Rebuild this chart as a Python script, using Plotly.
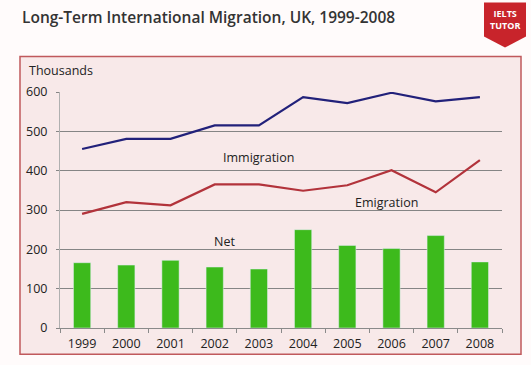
import plotly.graph_objects as go

years = ["1999", "2000", "2001", "2002", "2003", "2004", "2005", "2006", "2007", "2008"]
immigration = [455, 481, 481, 515, 515, 587, 572, 598, 576, 587]
emigration = [290, 320, 312, 365, 365, 349, 363, 401, 345, 427]
net = [166, 160, 172, 155, 150, 250, 210, 202, 235, 168]
y_ticks = [0, 100, 200, 300, 400, 500, 600]

W, H = 531, 365
L, R = 60, 502          # plot area pixel extents
T, B = 92.3, 327.7

def px(x):
    return (x - L) / (R - L)

def py(y):
    return (B - y) / (B - T)

fig = go.Figure()
fig.add_trace(go.Bar(x=years, y=net, marker_color="#3dba1c", width=0.39, name="Net"))
fig.add_trace(go.Scatter(x=years, y=immigration, mode="lines", line=dict(color="#22217a", width=2.2),
                         name="Immigration", cliponaxis=False))
fig.add_trace(go.Scatter(x=years, y=emigration, mode="lines", line=dict(color="#b2333b", width=2.2),
                         name="Emigration", cliponaxis=False))

shapes = [
    dict(type="rect", xref="paper", yref="paper", x0=px(20), x1=px(521), y0=py(354), y1=py(57),
         line=dict(color="#c0595c", width=1.5), fillcolor="#f8e9e9", layer="below"),
    dict(type="path", xref="paper", yref="paper",
         path=f"M {px(484)} {py(3)} L {px(526)} {py(3)} L {px(526)} {py(37)} L {px(505)} {py(48)} L {px(484)} {py(37)} Z",
         fillcolor="#c8242b", line=dict(width=0), layer="above"),
]

annotations = [
    dict(text="Immigration", x=3.98, y=433, xref="x", yref="y", showarrow=False,
         font=dict(size=12.5, color="#222")),
    dict(text="Emigration", x=6.89, y=320, xref="x", yref="y", showarrow=False,
         font=dict(size=12.5, color="#222")),
    dict(text="Net", x=3.23, y=219, xref="x", yref="y", showarrow=False,
         font=dict(size=12.5, color="#222")),
    dict(text="Thousands", x=px(27), y=py(71), xref="paper", yref="paper", xanchor="left",
         yanchor="middle", showarrow=False, font=dict(size=12.5, color="#222")),
    dict(text="Long-Term International Migration, UK, 1999-2008", x=px(20), y=py(17),
         xref="paper", yref="paper", xanchor="left", yanchor="middle", showarrow=False,
         font=dict(size=15.5, color="#333", family="Open Sans", weight=600)),
    dict(text="IELTS<br>TUTOR", x=px(505), y=py(20), xref="paper", yref="paper", showarrow=False,
         xanchor="center", yanchor="middle",
         font=dict(size=9, color="white", family="Open Sans", weight=700)),
]

fig.update_layout(
    width=W, height=H,
    margin=dict(l=L, r=W - R, t=T, b=H - B, pad=0),
    paper_bgcolor="#fffbfb",
    plot_bgcolor="rgba(0,0,0,0)",
    showlegend=False,
    bargap=0.6,
    font=dict(family="Open Sans", size=12.5, color="#222"),
    shapes=shapes,
    annotations=annotations,
    xaxis=dict(type="category", range=[-0.5, 9.5], showgrid=False, showline=True,
               linecolor="#8a8a8a", linewidth=1, ticks="outside", tickson="boundaries",
               ticklen=4, tickcolor="#8a8a8a", tickfont=dict(size=12.5, color="#222"),
               ticklabelstandoff=4),
    yaxis=dict(range=[0, 600], tickvals=y_ticks, showgrid=True, gridcolor="#858585", gridwidth=1,
               showline=True, linecolor="#b0b0b0", linewidth=1, zeroline=False,
               ticks="outside", ticklen=3, tickcolor="#858585",
               tickfont=dict(size=12.5, color="#222"), ticklabelstandoff=6),
)

fig.write_html("out.html", config={"displayModeBar": False},
               post_script="document.body.style.margin='0';document.body.style.background='#fffbfb';")
